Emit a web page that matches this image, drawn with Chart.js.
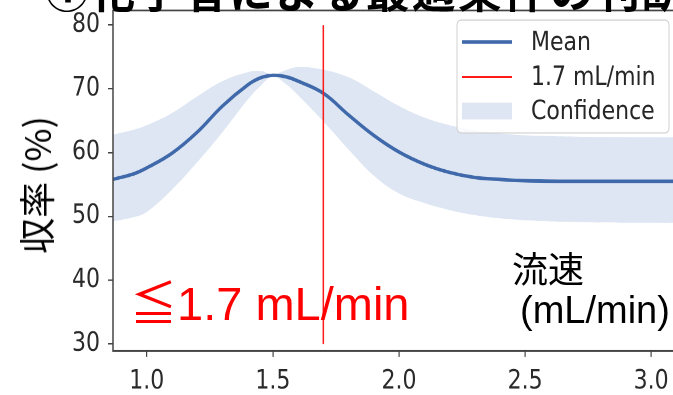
<!DOCTYPE html>
<html>
<head>
<meta charset="utf-8">
<script src="https://cdn.jsdelivr.net/npm/chart.js@4.4.0/dist/chart.umd.min.js"></script>
<style>
html, body { margin: 0; padding: 0; background: #fff; }
body { width: 673px; height: 395px; overflow: hidden; position: relative; }
#wrap { position: absolute; left: 0; top: 0; width: 700px; height: 335px; transform: scaleY(1.1791); transform-origin: 0 0; }
.t { position: absolute; white-space: nowrap; line-height: 1; }
</style>
</head>
<body>
<div id="wrap"><canvas id="myChart" width="700" height="335"></canvas></div>
<div class="t" id="title" style="left:45px;top:-43px;font:bold 44px 'Noto Sans CJK JP';letter-spacing:2px;color:#000">①化学者による最適条件の判断</div>
<div class="t" id="ylab" style="left:35px;top:185px;font:36px 'Noto Sans CJK JP';color:#000;transform:translate(-50%,-50%) rotate(-90deg)">収率 (%)</div>
<div class="t" id="limit" style="left:130px;top:265px;font:47px 'Liberation Sans','Noto Sans CJK JP';color:#ff0000">≦1.7 mL/min</div>
<div class="t" id="xlab1" style="left:512px;top:241px;font:36px 'Noto Sans CJK JP';color:#000">流速</div>
<div class="t" id="xlab2" style="left:520px;top:289px;font:38px 'Liberation Sans';color:#000">(mL/min)</div>
<script>
// 流速 (mL/min) と 収率 (%) の値
const flowRate   = [0.866, 0.95, 1.0, 1.1, 1.2, 1.3, 1.4, 1.45, 1.5, 1.55, 1.6, 1.7, 1.8, 1.9, 2.0, 2.1, 2.2, 2.3, 2.4, 2.5, 2.7, 3.0, 3.15];
const meanYield  = [55.8, 56.7, 57.6, 59.9, 63.2, 67.3, 70.6, 71.7, 72.1, 71.9, 71.2, 69.3, 65.9, 62.7, 60.1, 58.2, 56.9, 56.1, 55.8, 55.6, 55.5, 55.5, 55.5];
const upperYield = [62.8, 63.6, 64.3, 66.2, 68.8, 71.2, 72.6, 72.8, 72.3, 72.9, 73.4, 73.0, 71.8, 69.6, 67.3, 65.5, 64.3, 63.5, 63.0, 62.7, 62.5, 62.4, 62.4];
const lowerYield = [49.2, 49.9, 50.7, 54.2, 58.5, 63.2, 68.3, 70.4, 71.9, 70.8, 69.0, 64.9, 60.5, 56.4, 53.6, 52.1, 51.0, 50.2, 49.7, 49.4, 49.1, 49.0, 49.0];
const limitX = [1.7, 1.7];
const limitY = [30, 80];
const xTicks = [1.0, 1.5, 2.0, 2.5, 3.0];
const yTicks = [30, 40, 50, 60, 70, 80];
const legendOrder = ['Mean', '1.7 mL/min', 'Confidence'];

const S = 1.1791; // vertical stretch of the picture
const blue = '#3f69aa', red = '#ff1a1a', band = '#dde6f2';

function pts(xs, ys) { return xs.map((x, i) => ({x: x, y: ys[i]})); }

// frame + legend inside the plot
const frameLegend = {
  id: 'frameLegend',
  afterDraw(chart) {
    const ctx = chart.ctx, a = chart.chartArea;
    ctx.save();
    ctx.strokeStyle = '#444';
    ctx.lineWidth = 1.5;
    ctx.strokeRect(a.left, a.top, a.right - a.left, a.bottom - a.top);

    // legend box
    const L = 457, T = 20 / S, R = 669, B = 133 / S;
    ctx.fillStyle = 'rgba(255,255,255,0.8)';
    ctx.strokeStyle = '#d0d0d0';
    ctx.lineWidth = 1;
    ctx.beginPath();
    ctx.roundRect(L, T, R - L, B - T, 4);
    ctx.fill();
    ctx.stroke();

    const rows = [42 / S, 77 / S, 111 / S];
    ctx.font = '22px "DejaVu Sans"';
    ctx.textBaseline = 'middle';
    legendOrder.forEach((name, i) => {
      const d = chart.data.datasets.find(ds => ds.label === name);
      const y = rows[i];
      if (d.fill) {
        ctx.fillStyle = d.backgroundColor;
        ctx.fillRect(462, y - 8.4 / S, 50, 16.8 / S);
      } else {
        ctx.strokeStyle = d.borderColor;
        ctx.lineWidth = d.borderWidth;
        ctx.beginPath();
        ctx.moveTo(462, y);
        ctx.lineTo(512, y);
        ctx.stroke();
      }
      ctx.fillStyle = '#262626';
      ctx.fillText(d.label, 531, y + 1);
    });
    ctx.restore();
  }
};

const myChart = new Chart(document.getElementById('myChart').getContext('2d'), {
  type: 'line',
  data: {
    datasets: [
      {label: '1.7 mL/min', data: pts(limitX, limitY), borderColor: red, borderWidth: 1.5, pointRadius: 0, order: 0, fill: false},
      {label: 'Mean', data: pts(flowRate, meanYield), borderColor: blue, borderWidth: 3, pointRadius: 0, tension: 0.4, order: 1, fill: false},
      {label: 'Confidence', data: pts(flowRate, upperYield), borderWidth: 0, borderColor: 'rgba(0,0,0,0)', backgroundColor: band, pointRadius: 0, tension: 0.4, order: 2, fill: '+1'},
      {label: '', data: pts(flowRate, lowerYield), borderWidth: 0, borderColor: 'rgba(0,0,0,0)', pointRadius: 0, tension: 0.4, order: 3, fill: false}
    ]
  },
  options: {
    responsive: false,
    animation: false,
    devicePixelRatio: 2,
    layout: {padding: {top: 10.5 / S, right: 11, left: 0, bottom: 0}},
    plugins: {legend: {display: false}, tooltip: {enabled: false}},
    scales: {
      x: {
        type: 'linear', min: 0.866, max: 3.15,
        afterBuildTicks: ax => { ax.ticks = xTicks.map(v => ({value: v})); },
        afterFit: ax => { ax.height = 335 - 351 / S; ax.paddingLeft = 0; ax.paddingRight = 0; },
        grid: {drawOnChartArea: false, drawTicks: true, tickLength: 5, color: '#444', lineWidth: 1.2},
        border: {display: false},
        ticks: {font: {family: 'DejaVu Sans', size: 22}, color: '#2a2a2a', padding: 8, maxRotation: 0, callback: v => v.toFixed(1)}
      },
      y: {
        min: 28.9, max: 82.27,
        afterBuildTicks: ax => { ax.ticks = yTicks.map(v => ({value: v})); },
        afterFit: ax => { ax.width = 113; ax.paddingTop = 0; ax.paddingBottom = 0; },
        grid: {drawOnChartArea: false, drawTicks: true, tickLength: 5, color: '#444', lineWidth: 1.2},
        border: {display: false},
        ticks: {font: {family: 'DejaVu Sans', size: 22}, color: '#2a2a2a', padding: 8}
      }
    }
  },
  plugins: [frameLegend]
});
</script>
</body>
</html>
